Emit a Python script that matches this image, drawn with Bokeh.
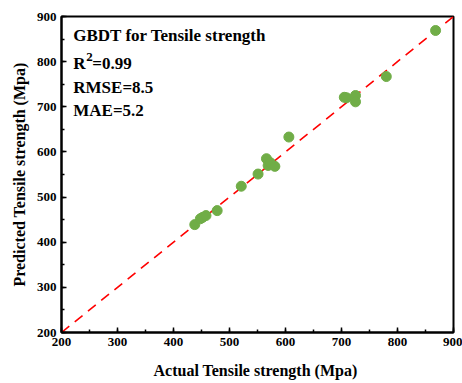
from bokeh.plotting import figure
from bokeh.models import SingleIntervalTicker, Range1d, Label
from bokeh.embed import file_html
from bokeh.resources import INLINE

actual = [438, 448, 452, 458, 478, 521, 551, 566, 569, 573, 581, 606, 705, 709, 725, 725, 780, 868]
predicted = [439, 452, 455, 459, 470, 524, 551, 585, 570, 576, 568, 633, 721, 720, 725, 711, 767, 869]
ideal = [200, 900]
title_text = "GBDT for Tensile strength"
r2_text = "0.99"
rmse_text = "RMSE=8.5"
mae_text = "MAE=5.2"

FONT = "Liberation Serif"

p = figure(width=462, height=383, output_backend="svg", toolbar_location=None,
           x_range=Range1d(200, 900), y_range=Range1d(200, 900),
           min_border_left=61, min_border_right=9, min_border_top=16, min_border_bottom=51)
p.xgrid.visible = False
p.ygrid.visible = False
p.outline_line_color = "black"
p.outline_line_width = 2
p.outline_line_alpha = 1
p.background_fill_color = "white"
p.border_fill_color = "white"

for ax in (p.xaxis[0], p.yaxis[0]):
    ax.ticker = SingleIntervalTicker(interval=100, num_minor_ticks=2)
    ax.axis_line_color = "black"
    ax.axis_line_width = 2
    ax.major_tick_in = 5
    ax.major_tick_out = 0
    ax.minor_tick_in = 3
    ax.minor_tick_out = 0
    ax.major_tick_line_width = 1.5
    ax.minor_tick_line_width = 1.5
    ax.major_label_text_font = FONT
    ax.major_label_text_font_style = "bold"
    ax.major_label_text_font_size = "13px"
    ax.major_label_text_color = "black"
    ax.axis_label_text_font = FONT
    ax.axis_label_text_font_style = "bold"
    ax.axis_label_text_font_size = "16px"
    ax.axis_label_text_color = "black"

p.xaxis.axis_label = "Actual Tensile strength  (Mpa)"
p.yaxis.axis_label = "Predicted Tensile strength (Mpa)"
p.xaxis.major_label_standoff = 5
p.yaxis.major_label_standoff = 5
p.xaxis.axis_label_standoff = 13
p.yaxis.axis_label_standoff = 6

p.line(ideal, ideal, line_color="red", line_width=1.6, line_dash="10 7")
p.scatter(actual, predicted, size=10, fill_color="#70AD47", line_color="#70AD47")

def lab(x, y, text, size="17px"):
    p.add_layout(Label(x=x, y=y, text=text, text_font=FONT, text_font_style="bold",
                       text_font_size=size, text_color="black", text_baseline="middle"))

lab(221, 859, title_text)
lab(221, 795, "R")
lab(244, 811, "2", size="13px")
lab(255, 795, "=" + r2_text)
lab(221, 743, rmse_text)
lab(221, 692, mae_text)

open("out.html", "w").write(file_html(p, INLINE))
